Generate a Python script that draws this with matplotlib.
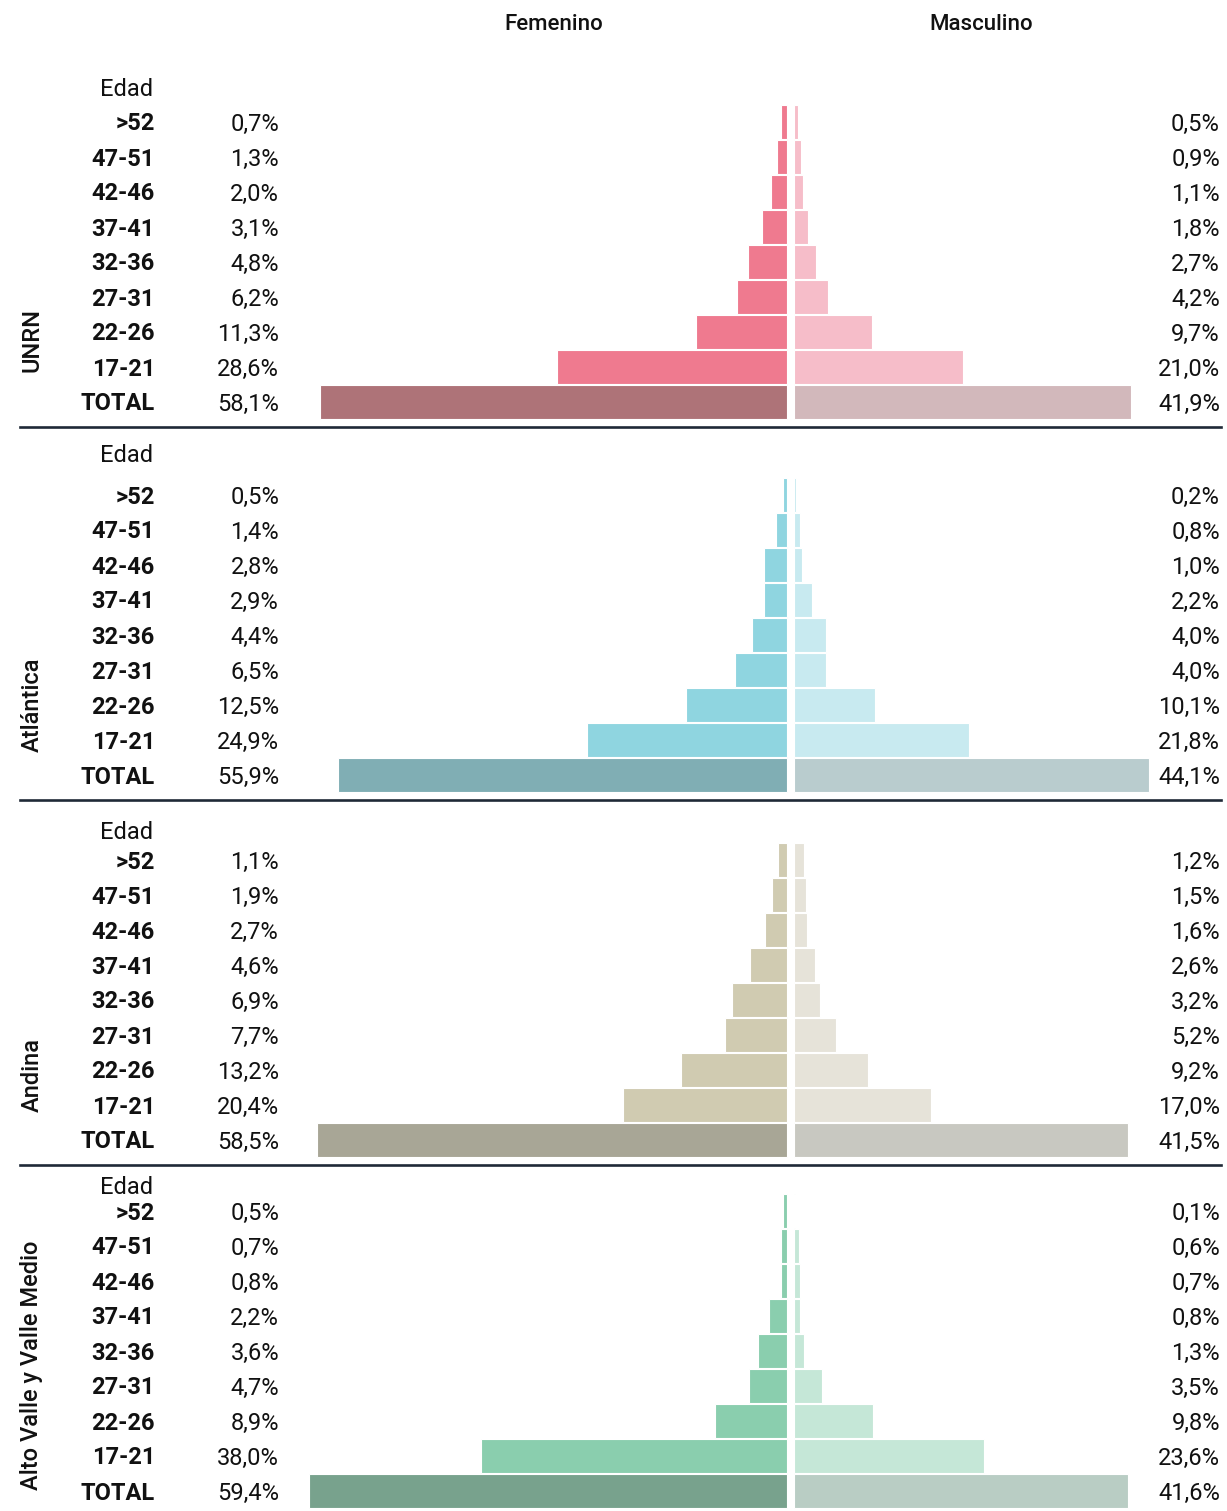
import matplotlib.pyplot as plt

# datos: de abajo (TOTAL) hacia arriba (>52)
edades = ["TOTAL", "17-21", "22-26", "27-31", "32-36", "37-41", "42-46", "47-51", ">52"]
grupos = ["UNRN", "Atlántica", "Andina", "Alto Valle y Valle Medio"]

fem_unrn = [58.1, 28.6, 11.3, 6.2, 4.8, 3.1, 2.0, 1.3, 0.7]
mas_unrn = [41.9, 21.0, 9.7, 4.2, 2.7, 1.8, 1.1, 0.9, 0.5]
fem_atl = [55.9, 24.9, 12.5, 6.5, 4.4, 2.9, 2.8, 1.4, 0.5]
mas_atl = [44.1, 21.8, 10.1, 4.0, 4.0, 2.2, 1.0, 0.8, 0.2]
fem_and = [58.5, 20.4, 13.2, 7.7, 6.9, 4.6, 2.7, 1.9, 1.1]
mas_and = [41.5, 17.0, 9.2, 5.2, 3.2, 2.6, 1.6, 1.5, 1.2]
fem_avvm = [59.4, 38.0, 8.9, 4.7, 3.6, 2.2, 0.8, 0.7, 0.5]
mas_avvm = [41.6, 23.6, 9.8, 3.5, 1.3, 0.8, 0.7, 0.6, 0.1]

femenino = [fem_unrn, fem_atl, fem_and, fem_avvm]
masculino = [mas_unrn, mas_atl, mas_and, mas_avvm]

# colores (fem, masc, total fem, total masc)
colores = [
    ("#EF7A8F", "#F6BDC9", "#AE7378", "#D2B8BB"),
    ("#8FD5E0", "#C8EAF0", "#80AEB4", "#B9CCCE"),
    ("#D0CBB1", "#E6E3D9", "#A8A696", "#C8C8C1"),
    ("#8ACEAE", "#C5E7D7", "#78A28D", "#B9CDC4"),
]

# layout (pixeles)
W, H = 1227, 1511
top_px = [122, 495, 860, 1211]      # centro de la fila >52
edad_off = [35, 42, 30, 25]         # distancia de "Edad" sobre >52
grupo_y = [1.77, 2.0, 1.86, 3.6]    # centro del rotulo del grupo (en filas)
px_pct = 8.04                        # px por punto porcentual
centro = 790.5
gap = 3.5 / px_pct
fila = 35.0
bajar = 2 / fila                     # corrimiento del texto hacia abajo

plt.rcParams['font.family'] = ['Roboto', 'DejaVu Sans']

fig = plt.figure(figsize=(W / 100, H / 100), dpi=100)

def fmt(v):
    return f"{v:.1f}".replace(".", ",") + "%"

for i in range(len(grupos)):
    alto = 9 * fila
    y0 = top_px[i] - fila / 2
    ax = fig.add_axes([0, 1 - (y0 + alto) / H, 1, alto / H])
    ax.set_xlim(-centro / px_pct, (W - centro) / px_pct)
    ax.set_ylim(-0.5, 8.5)
    ax.axis("off")

    f = femenino[i]
    m = masculino[i]
    cf, cm, ctf, ctm = colores[i]
    col_f = [ctf] + [cf] * (len(f) - 1)
    col_m = [ctm] + [cm] * (len(m) - 1)
    ys = list(range(len(edades)))

    ax.barh(ys, [-v for v in f], left=-gap, height=0.97, color=col_f, edgecolor="white", linewidth=0.8)
    ax.barh(ys, m, left=gap, height=0.97, color=col_m, edgecolor="white", linewidth=0.8)

    tr = ax.get_yaxis_transform()
    for y, e, vf, vm in zip(ys, edades, f, m):
        ax.text(155 / W, y - bajar, e, transform=tr, ha="right", va="center", fontsize=17, fontweight="bold", color="#111111")
        ax.text(279 / W, y - bajar, fmt(vf), transform=tr, ha="right", va="center", fontsize=17, color="#111111")
        ax.text(1220 / W, y - bajar, fmt(vm), transform=tr, ha="right", va="center", fontsize=17, color="#111111")

    ax.text(153 / W, 8 + edad_off[i] / fila - bajar, "Edad", transform=tr, ha="right", va="center", fontsize=17, color="#111111", clip_on=False)
    ax.text(32 / W, grupo_y[i], grupos[i], transform=tr, ha="center", va="center", rotation=90, fontsize=17, fontweight="medium", color="#111111", clip_on=False)

    # linea separadora
    if i < len(grupos) - 1:
        ax.plot([20 / W, 1221 / W], [-25 / fila, -25 / fila], transform=tr, color="#1F2937", linewidth=1.9, clip_on=False)

fig.text(554 / W, 1 - 25 / H, "Femenino", ha="center", va="center", fontsize=16, fontweight="medium", color="#111111")
fig.text(981 / W, 1 - 25 / H, "Masculino", ha="center", va="center", fontsize=16, fontweight="medium", color="#111111")

fig.savefig("out.png", dpi=100)
